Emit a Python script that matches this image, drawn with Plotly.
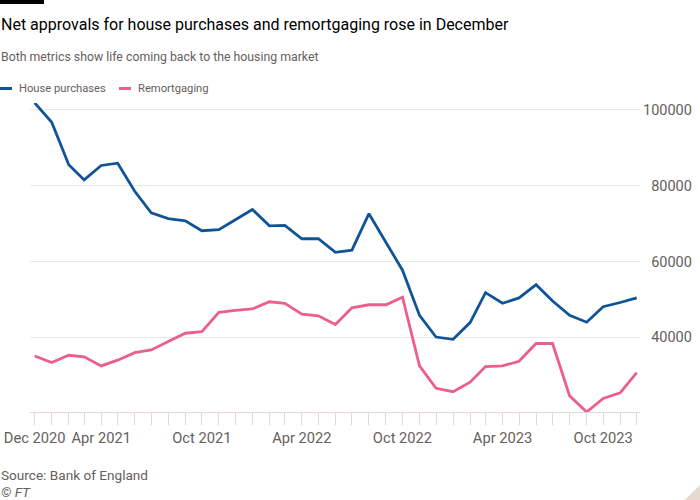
import pandas as pd
import plotly.graph_objects as go

months = pd.date_range("2020-12-01", periods=37, freq="MS")

house_purchases = [
    101800, 96700, 85500, 81500, 85300, 85900, 78500, 72800, 71300, 70700, 68100, 68400,
    71000, 73700, 69400, 69500, 66000, 66000, 62400, 63000, 72600, 65200, 57700, 45800,
    40100, 39500, 43900, 51800, 49000, 50400, 53900, 49600, 45800, 44000, 48100, 49200,
    50400,
]
remortgaging = [
    35100, 33400, 35300, 34900, 32500, 34000, 36000, 36700, 38900, 41100, 41500, 46600,
    47100, 47500, 49400, 49000, 46100, 45700, 43400, 47800, 48600, 48600, 50600, 32500,
    26600, 25700, 28200, 32300, 32500, 33700, 38400, 38400, 24600, 20350, 23900, 25400,
    30700,
]
series_names = ["House purchases", "Remortgaging"]
series_colors = ["#0F5499", "#EB5E8D"]

x_tick_vals = ["2020-12-01", "2021-04-01", "2021-10-01", "2022-04-01",
               "2022-10-01", "2023-04-01", "2023-10-01"]
x_tick_text = ["Dec 2020", "Apr 2021", "Oct 2021", "Apr 2022",
               "Oct 2022", "Apr 2023", "Oct 2023"]
y_tick_vals = [40000, 60000, 80000, 100000]
y_tick_text = ["\u200740000", "\u200760000", "\u200780000", "100000"]

FONT = "Roboto"
GREY = "#66605C"
GRID = "#EDE7E1"

# layout geometry (pixels)
W, H = 700, 500
L, R, T, B = 30, 60, 103, 88
PW, PH = W - L - R, H - T - B


def px(x):
    return (x - L) / PW


def py(y):
    return (H - B - y) / PH


fig = go.Figure()
for name, vals, col in zip(series_names, [house_purchases, remortgaging], series_colors):
    fig.add_trace(go.Scatter(x=months, y=vals, name=name, mode="lines",
                             line=dict(color=col, width=2.8), showlegend=False,
                             hoverinfo="skip"))

ann = []
ann.append(dict(text="Net approvals for house purchases and remortgaging rose in December",
                x=px(0), y=py(25), font=dict(size=16, color="#000000", family=FONT)))
ann.append(dict(text="Both metrics show life coming back to the housing market",
                x=px(0), y=py(57), font=dict(size=12.3, color=GREY, family=FONT)))
ann.append(dict(text=series_names[0], x=px(18), y=py(88.5),
                font=dict(size=11.2, color=GREY, family=FONT)))
ann.append(dict(text=series_names[1], x=px(137), y=py(88.5),
                font=dict(size=11.2, color=GREY, family=FONT)))
ann.append(dict(text="Source: Bank of England", x=px(0), y=py(474.5),
                font=dict(size=13.6, color=GREY, family=FONT)))
ann.append(dict(text="<i>© FT</i>", x=px(0), y=py(492),
                font=dict(size=13.6, color=GREY, family=FONT)))
for a in ann:
    a.update(xref="paper", yref="paper", xanchor="left", yanchor="middle",
             showarrow=False, xshift=-1)

shapes = [
    dict(type="rect", xref="paper", yref="paper", x0=px(0), x1=px(44), y0=py(4), y1=py(0),
         fillcolor="#000000", line=dict(width=0), layer="above"),
    dict(type="line", xref="paper", yref="paper", x0=px(0), x1=px(12), y0=py(88.5), y1=py(88.5),
         line=dict(color=series_colors[0], width=3)),
    dict(type="line", xref="paper", yref="paper", x0=px(119), x1=px(131), y0=py(88.5), y1=py(88.5),
         line=dict(color=series_colors[1], width=3)),
    dict(type="path", xref="paper", yref="paper",
         path=f"M {px(700)} {py(485)} L {px(700)} {py(500)} L {px(685)} {py(500)} Z",
         fillcolor="#E6D9CE", line=dict(width=0)),
]

fig.update_layout(
    width=W, height=H,
    margin=dict(l=L, r=R, t=T, b=B, pad=0, autoexpand=False),
    paper_bgcolor="#FFFFFF", plot_bgcolor="#FFFFFF",
    font=dict(family=FONT, size=14, color=GREY),
    annotations=ann, shapes=shapes,
    showlegend=False, hovermode=False,
    xaxis=dict(
        type="date", range=["2020-11-22 12:00", "2023-12-07"], automargin=False,
        tickmode="array", tickvals=x_tick_vals, ticktext=x_tick_text,
        ticks="outside", ticklen=12, tickcolor="#E2DAD2", tickwidth=1,
        minor=dict(ticks="outside", dtick="M1", tick0="2020-12-01", ticklen=12,
                   tickcolor="#E2DAD2", tickwidth=1, showgrid=False),
        showgrid=False, zeroline=False,
        showline=True, linecolor="#E2DAD2", linewidth=1,
        tickfont=dict(size=14.7, color=GREY, family=FONT),
    ),
    yaxis=dict(
        side="right", range=[20350, 101760], automargin=False,
        tickmode="array", tickvals=y_tick_vals, ticktext=y_tick_text,
        showgrid=True, gridcolor=GRID, gridwidth=1,
        zeroline=False, showline=False, ticks="", ticklabelstandoff=2,
        tickfont=dict(size=14.5, color=GREY, family=FONT),
    ),
)

fig.write_html("out.html", config={"displayModeBar": False},
               post_script="document.body.style.margin='0';")
